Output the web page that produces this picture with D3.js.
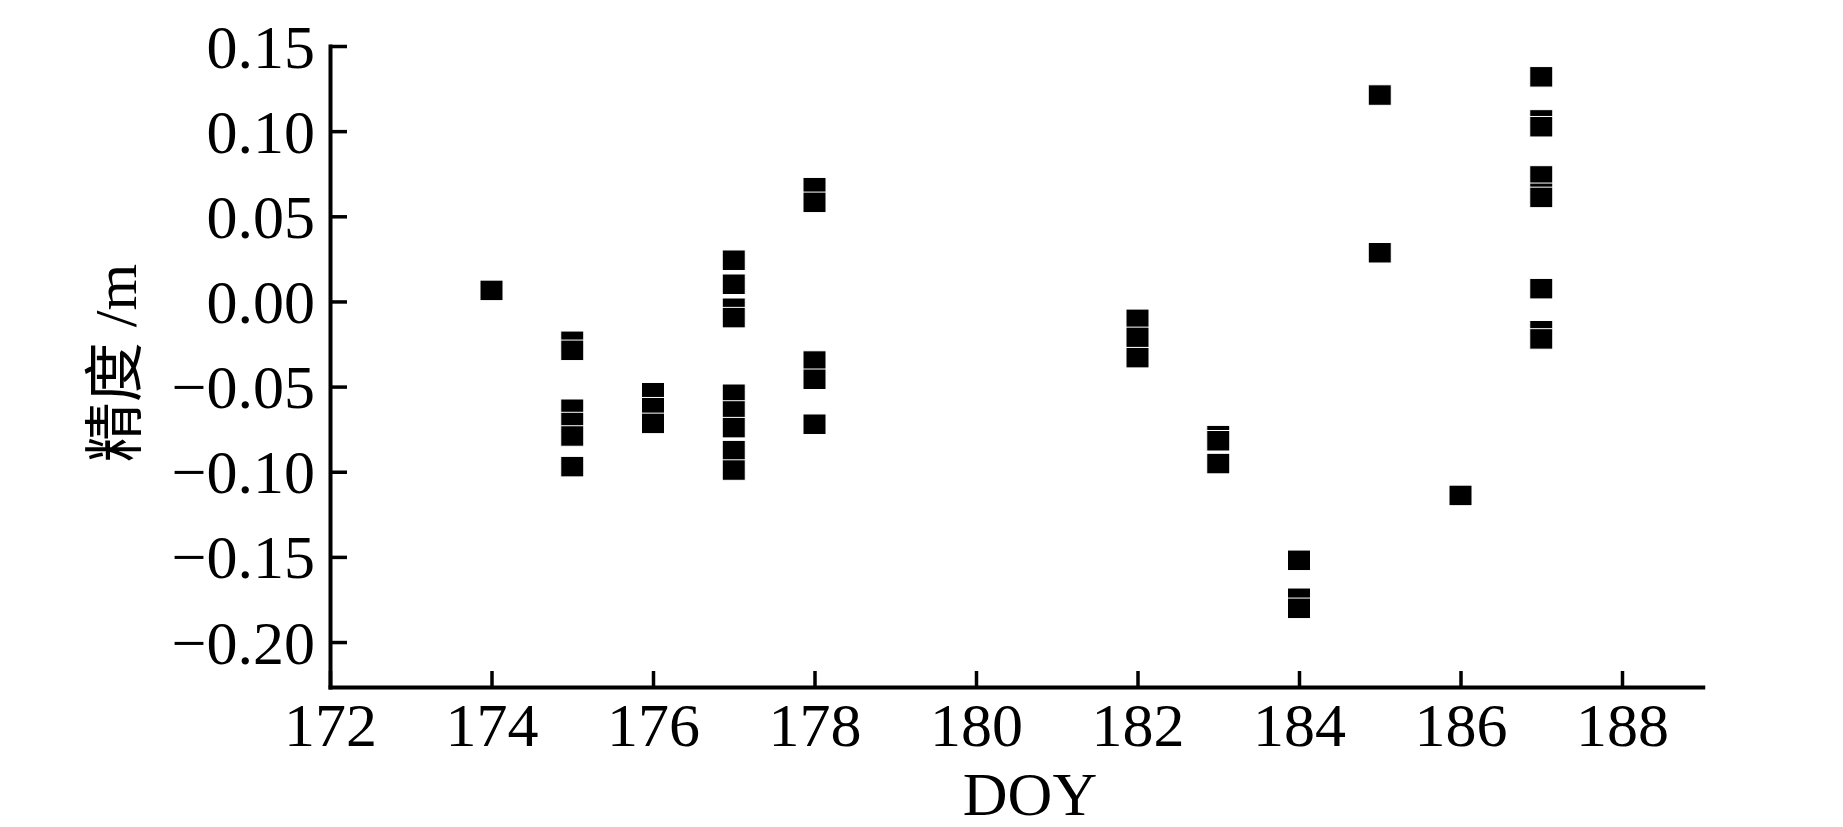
<!DOCTYPE html>
<html>
<head>
<meta charset="utf-8">
<script src="https://cdn.jsdelivr.net/npm/d3@7"></script>
<style>
  html, body { margin: 0; padding: 0; background: #fff; }
  svg { display: block; }
</style>
</head>
<body>
<svg id="chart" width="1843" height="827"></svg>
<script>
// ---- data ----
const doy = [
  174,
  175, 175, 175, 175, 175, 175,
  176, 176, 176,
  177, 177, 177, 177, 177, 177, 177, 177, 177,
  178, 178, 178, 178, 178,
  182, 182, 182,
  183, 183, 183,
  184, 184, 184,
  185, 185,
  186,
  187, 187, 187, 187, 187, 187, 187, 187, 187
];
const precision = [
  0.0065,
  -0.0234, -0.0287, -0.0633, -0.0711, -0.0790, -0.0970,
  -0.0536, -0.0624, -0.0716,
  0.0242, 0.0101, -0.0040, -0.0095, -0.0545, -0.0643, -0.0741, -0.0876, -0.0990,
  0.0668, 0.0582, -0.0350, -0.0457, -0.0721,
  -0.0105, -0.0211, -0.0330,
  -0.0788, -0.0818, -0.0952,
  -0.1520, -0.1743, -0.1802,
  0.1212, 0.0286,
  -0.1139,
  0.1319, 0.1066, 0.1026, 0.0737, 0.0635, 0.0611, 0.0075, -0.0172, -0.0220
];
const xTicks = [172, 174, 176, 178, 180, 182, 184, 186, 188];
const yTicks = [-0.20, -0.15, -0.10, -0.05, 0.00, 0.05, 0.10, 0.15];
const yTickLabels = ["\u22120.20", "\u22120.15", "\u22120.10", "\u22120.05", "0.00", "0.05", "0.10", "0.15"];
const xTitle = "DOY";
const yTitle = "精度 /m";

// ---- layout ----
const svg = d3.select("#chart");
const x = d3.scaleLinear().domain([172, 189]).range([330, 1702.75]);
const y = d3.scaleLinear().domain([-0.2264, 0.15]).range([687, 46]);

const fontFamily = "'Liberation Serif', 'Times New Roman', 'Noto Sans CJK SC', serif";
const tickFont = 62;

// markers
const pts = doy.map((d, i) => ({ d: d, v: precision[i] }));
const mw = 23, mh = 20.5;
svg.append("g")
  .selectAll("rect")
  .data(pts)
  .join("rect")
  .attr("x", p => x(p.d) - mw / 2)
  .attr("y", p => y(p.v) - mh / 2)
  .attr("width", mw)
  .attr("height", mh)
  .attr("fill", "#000")
  .attr("stroke", "#fff")
  .attr("stroke-width", 1);

// x axis
const gx = svg.append("g")
  .attr("transform", `translate(0,${y.range()[0]})`)
  .call(d3.axisBottom(x)
    .tickValues(xTicks)
    .tickFormat(d3.format("d"))
    .tickSizeInner(-16)
    .tickSizeOuter(0)
    .tickPadding(15));

// y axis
const yLabelMap = new Map(yTicks.map((t, i) => [t, yTickLabels[i]]));
const gy = svg.append("g")
  .attr("transform", `translate(${x.range()[0]},0)`)
  .call(d3.axisLeft(y)
    .tickValues(yTicks)
    .tickFormat(t => yLabelMap.get(t))
    .tickSizeInner(-17)
    .tickSizeOuter(0)
    .tickPadding(15));

[gx, gy].forEach(g => {
  g.select(".domain")
    .attr("stroke", "#000")
    .attr("stroke-width", 4)
    .attr("stroke-linecap", "square");
  g.selectAll(".tick line")
    .attr("stroke", "#000")
    .attr("stroke-width", 3.5);
  g.selectAll(".tick text")
    .attr("fill", "#000")
    .style("font-family", fontFamily)
    .style("font-size", tickFont + "px");
});
gy.selectAll(".tick text").attr("dy", "0.34em");

// axis titles
svg.append("text")
  .attr("x", 1030)
  .attr("y", 815)
  .attr("text-anchor", "middle")
  .style("font-family", fontFamily)
  .style("font-size", "62px")
  .attr("fill", "#000")
  .text(xTitle);

svg.append("text")
  .attr("transform", "translate(136,363) rotate(-90)")
  .attr("text-anchor", "middle")
  .style("font-family", fontFamily)
  .style("font-size", "60px")
  .attr("fill", "#000")
  .text(yTitle);
</script>
</body>
</html>
